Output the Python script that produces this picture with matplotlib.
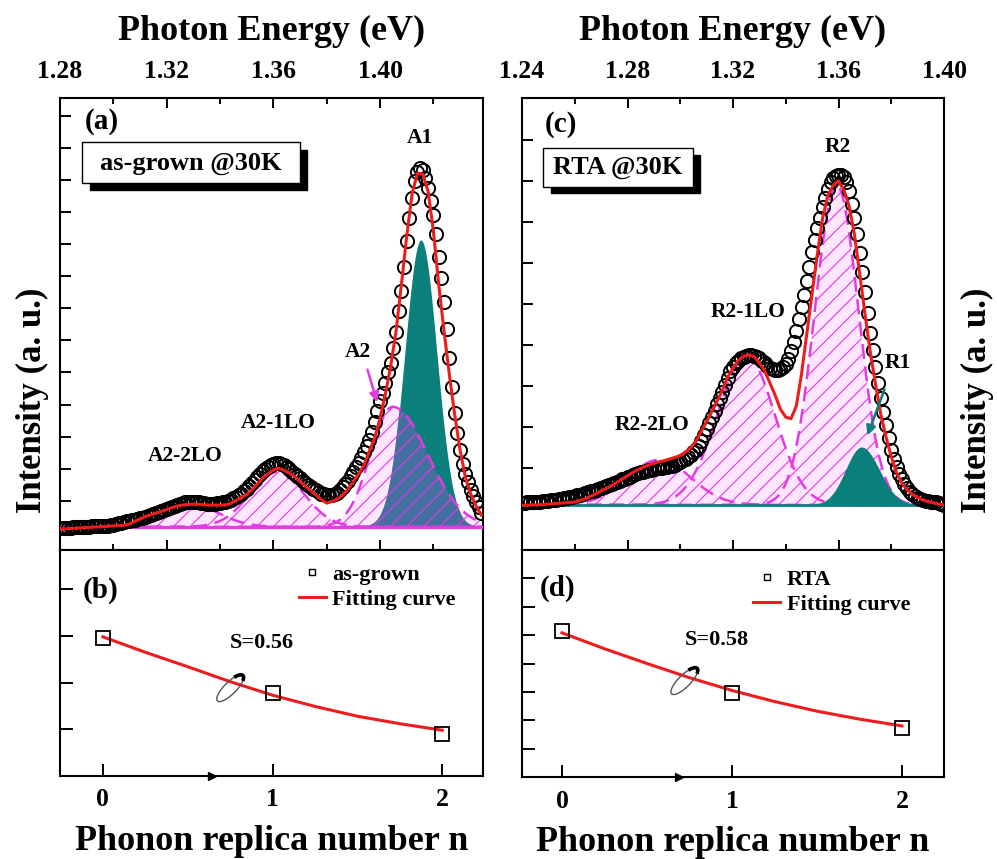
import numpy as np
import matplotlib
matplotlib.use('Agg')
import matplotlib.pyplot as plt
import matplotlib.transforms as mtrans
from matplotlib.patches import Rectangle, Arc
from matplotlib.lines import Line2D

# ---------------- data ----------------
# (a) as-grown PL spectrum, 1 meV steps from 1.280 eV
E0_a = 1.280
pl_asgrown = [
    0.16, 0.16, 0.17, 0.17, 0.17, 0.18, 0.18, 0.18, 0.19, 0.19,
    0.20, 0.20, 0.21, 0.21, 0.22, 0.22, 0.23, 0.23, 0.23, 0.24,
    0.26, 0.28, 0.30, 0.32, 0.34, 0.36, 0.38, 0.40, 0.42, 0.44,
    0.46, 0.47, 0.50, 0.53, 0.56, 0.59, 0.62, 0.65, 0.68, 0.71,
    0.74, 0.77, 0.81, 0.85, 0.88, 0.91, 0.93, 0.95, 0.96, 0.97,
    0.97, 0.96, 0.95, 0.93, 0.92, 0.91, 0.90, 0.90, 0.91, 0.92,
    0.93, 0.95, 0.97, 1.00, 1.04, 1.08, 1.12, 1.17, 1.23, 1.30,
    1.38, 1.47, 1.56, 1.65, 1.74, 1.83, 1.92, 2.00, 2.07, 2.12,
    2.16, 2.18, 2.18, 2.15, 2.11, 2.05, 1.98, 1.91, 1.84, 1.77,
    1.70, 1.63, 1.56, 1.50, 1.44, 1.38, 1.33, 1.28, 1.23, 1.20,
    1.18, 1.17, 1.18, 1.21, 1.26, 1.33, 1.42, 1.52, 1.63, 1.76,
    1.90, 2.04, 2.18, 2.35, 2.53, 2.72, 2.90, 3.15, 3.45, 3.80,
    4.10, 4.35, 4.68, 5.00, 5.30, 5.75, 6.25, 6.90, 7.55, 8.30,
    9.10, 9.80, 10.45, 10.95, 11.25, 11.37, 11.30, 11.05, 10.75, 10.35,
    9.90, 9.30, 8.60, 7.95, 7.20, 6.35, 5.45, 4.55, 3.75, 3.10,
    2.60, 2.15, 1.85, 1.60, 1.35, 1.15, 0.98, 0.80, 0.62]
# total fitting curve (a), 2 meV steps
fit_asgrown = [
    0.12, 0.13, 0.14, 0.15, 0.16, 0.17, 0.18, 0.19, 0.20, 0.21,
    0.22, 0.23, 0.24, 0.28, 0.36, 0.44, 0.51, 0.57, 0.62, 0.67,
    0.73, 0.79, 0.84, 0.87, 0.89, 0.90, 0.89, 0.88, 0.87, 0.87,
    0.87, 0.87, 0.92, 1.01, 1.10, 1.20, 1.35, 1.53, 1.71, 1.84,
    1.96, 2.02, 1.95, 1.86, 1.76, 1.60, 1.46, 1.32, 1.18, 1.04,
    0.93, 0.98, 1.06, 1.18, 1.37, 1.60, 1.85, 2.12, 2.55, 2.96,
    3.58, 4.33, 5.20, 6.29, 7.73, 9.25, 10.56, 11.21, 11.18, 10.65,
    9.41, 7.73, 6.29, 4.92, 3.68, 2.59, 1.74, 1.21, 0.84, 0.56]
# Gaussian components (a): centre, amplitude, sigma_left, sigma_right
base_a = 0.19
peak_A1 = (1.4153, 8.94, 0.0060, 0.0060)
peak_A2 = (1.4047, 3.74, 0.0083, 0.0131)
peak_A2_1LO = (1.3613, 1.71, 0.0101, 0.0101)
peak_A2_2LO = (1.3276, 0.75, 0.0112, 0.0112)

# (c) RTA PL spectrum, 1 meV steps from 1.240 eV
E0_c = 1.240
pl_rta = [
    1.15, 1.15, 1.16, 1.16, 1.17, 1.17, 1.18, 1.18, 1.19, 1.19,
    1.20, 1.21, 1.21, 1.22, 1.24, 1.25, 1.26, 1.27, 1.28, 1.29,
    1.31, 1.33, 1.35, 1.37, 1.39, 1.41, 1.43, 1.45, 1.47, 1.49,
    1.52, 1.54, 1.57, 1.59, 1.62, 1.64, 1.67, 1.69, 1.72, 1.74,
    1.77, 1.79, 1.82, 1.85, 1.87, 1.89, 1.91, 1.93, 1.95, 1.96,
    1.98, 1.99, 2.00, 2.01, 2.02, 2.03, 2.04, 2.05, 2.08, 2.11,
    2.15, 2.19, 2.23, 2.27, 2.32, 2.38, 2.44, 2.53, 2.66, 2.80,
    2.95, 3.10, 3.25, 3.40, 3.56, 3.71, 3.85, 4.02, 4.20, 4.36,
    4.47, 4.56, 4.62, 4.67, 4.71, 4.74, 4.76, 4.76, 4.74, 4.71,
    4.67, 4.62, 4.56, 4.49, 4.44, 4.41, 4.39, 4.39, 4.41, 4.46,
    4.54, 4.66, 4.85, 5.08, 5.33, 5.62, 5.92, 6.22, 6.55, 6.90,
    7.27, 7.56, 7.84, 8.10, 8.36, 8.59, 8.80, 8.96, 9.06, 9.12,
    9.15, 9.14, 9.10, 8.98, 8.75, 8.44, 8.10, 7.70, 7.25, 6.78,
    6.28, 5.78, 5.30, 4.88, 4.46, 4.06, 3.70, 3.37, 3.04, 2.73,
    2.44, 2.22, 2.02, 1.86, 1.72, 1.60, 1.50, 1.42, 1.36, 1.31,
    1.27, 1.24, 1.22, 1.20, 1.19, 1.18, 1.17, 1.16, 1.15, 1.12,
    1.10]
fit_rta = [
    1.09, 1.09, 1.10, 1.10, 1.11, 1.12, 1.13, 1.14, 1.15, 1.16,
    1.17, 1.21, 1.25, 1.31, 1.37, 1.44, 1.50, 1.57, 1.65, 1.73,
    1.81, 1.89, 1.96, 2.02, 2.07, 2.11, 2.15, 2.18, 2.22, 2.26,
    2.30, 2.39, 2.49, 2.66, 2.90, 3.13, 3.38, 3.63, 3.90, 4.22,
    4.44, 4.62, 4.72, 4.76, 4.71, 4.56, 4.37, 4.07, 3.77, 3.43,
    3.24, 3.20, 3.51, 4.30, 5.28, 6.26, 7.22, 8.10, 8.65, 8.89,
    9.00, 8.79, 8.39, 7.71, 6.76, 5.77, 4.85, 4.06, 3.32, 2.76,
    2.27, 1.89, 1.63, 1.47, 1.36, 1.28, 1.22, 1.18, 1.15, 1.12,
    1.10]
base_c = 1.10
peak_R2 = (1.3593, 7.80, 0.0083, 0.0083)
peak_R2_1LO = (1.3253, 3.61, 0.0113, 0.0106)
peak_R2_2LO = (1.2920, 1.10, 0.0120, 0.0120)
peak_R1 = (1.3687, 1.41, 0.0060, 0.0068)

# (b), (d) phonon replica intensities
replica_n = [0, 1, 2]
replica_asgrown = [2.96, 1.78, 0.90]
replica_rta = [5.15, 2.97, 1.74]
fit_n = [0, 0.25, 0.5, 0.75, 1.0, 1.25, 1.5, 1.75, 2.0]
fit_curve_asgrown = [2.98, 2.65, 2.34, 2.02, 1.73, 1.49, 1.28, 1.12, 0.98]
fit_curve_rta = [5.08, 4.52, 4.00, 3.50, 3.05, 2.66, 2.32, 2.04, 1.80]

energy_ticks_a = [1.28, 1.32, 1.36, 1.40]
energy_ticks_c = [1.24, 1.28, 1.32, 1.36, 1.40]

# ---------------- style ----------------
RED = '#ee1c1c'
MAG = '#e23be2'
TEAL = '#0b7f7c'
OVERLAP = '#43709f'
plt.rcParams['font.family'] = ['Liberation Serif', 'DejaVu Serif']
plt.rcParams['font.weight'] = 'bold'
plt.rcParams['hatch.color'] = MAG
plt.rcParams['hatch.linewidth'] = 0.8
plt.rcParams['axes.linewidth'] = 1.5

W, H = 997, 859
fig = plt.figure(figsize=(W / 100, H / 100), dpi=100)


def px_axes(x0, y0, x1, y1):
    return fig.add_axes([x0 / W, 1 - y1 / H, (x1 - x0) / W, (y1 - y0) / H])


ax_a = px_axes(60, 98, 483, 550)
ax_b = px_axes(60, 550, 483, 776)
ax_c = px_axes(522, 98, 944, 550)
ax_d = px_axes(522, 550, 944, 777)


def peak(E, p):
    c, a, sl, sr = p
    s = np.where(E < c, sl, sr)
    return a * np.exp(-(E - c) ** 2 / (2 * s ** 2))


def style_top(ax, xlim, ylim, xticks, yticks):
    ax.set_xlim(xlim)
    ax.set_ylim(ylim)
    ax.set_xticks(xticks)
    ax.set_xticklabels(['%.2f' % t for t in xticks])
    ax.set_xticks(np.array(xticks[:-1]) + 0.02, minor=True)
    ax.set_yticks(yticks)
    ax.tick_params(axis='x', which='both', direction='in', top=True, bottom=True,
                   labeltop=True, labelbottom=False, width=1.4)
    ax.tick_params(axis='x', which='major', length=7.5, labelsize=18.5, pad=11)
    ax.tick_params(axis='x', which='minor', length=4.5)
    ax.tick_params(axis='y', direction='in', left=True, right=False,
                   labelleft=False, length=8, width=1.4)
    ax.text(0.5, 1.147, 'Photon Energy (eV)', transform=ax.transAxes,
            ha='center', va='center', fontsize=26)


def style_bottom(ax, xlim, ylim, yticks):
    ax.set_xlim(xlim)
    ax.set_ylim(ylim)
    ax.set_xticks(replica_n)
    ax.set_yticks(yticks)
    ax.tick_params(axis='x', direction='in', top=False, length=9, width=1.4,
                   labelsize=18.5, pad=9)
    ax.tick_params(axis='y', direction='in', right=False, labelleft=False,
                   length=9, width=1.4)
    ax.text(0.5, -0.288, 'Phonon replica number n', transform=ax.transAxes,
            ha='center', va='center', fontsize=26)


def shadow_box(ax, box, shadow, text, pos):
    x0, x1, y0, y1 = shadow
    ax.add_patch(Rectangle((x0, y0), x1 - x0, y1 - y0, transform=ax.transAxes,
                           facecolor='k', edgecolor='k', zorder=6))
    x0, x1, y0, y1 = box
    ax.add_patch(Rectangle((x0, y0), x1 - x0, y1 - y0, transform=ax.transAxes,
                           facecolor='white', edgecolor='k', lw=1.0, zorder=7))
    ax.text(pos[0], pos[1], text, transform=ax.transAxes, ha='center',
            va='center', fontsize=19, zorder=8)


def loop_arrow(ax, cx, cy):
    tr = fig.dpi_scale_trans + mtrans.ScaledTranslation(cx, cy, ax.transData)
    ax.add_patch(Arc((0, 0), 0.36, 0.12, angle=45, theta1=20, theta2=345,
                     transform=tr, color='#555555', lw=1.0, zorder=6))
    ax.add_patch(Arc((0, 0), 0.36, 0.12, angle=45, theta1=-15, theta2=25,
                     transform=tr, color='k', lw=2.6, zorder=6))


# ---------------- (a) ----------------
E_a = E0_a + 0.001 * np.arange(len(pl_asgrown))
Ef_a = E0_a + 0.002 * np.arange(len(fit_asgrown))
Eg = np.linspace(1.279, 1.440, 700)
gA1 = peak(Eg, peak_A1)
gA2 = peak(Eg, peak_A2)
hatched_a = [gA2, peak(Eg, peak_A2_1LO), peak(Eg, peak_A2_2LO)]
env = np.max(hatched_a, axis=0)
ax_a.fill_between(Eg, base_a, base_a + gA1, color=TEAL, lw=0, zorder=1)
ax_a.fill_between(Eg, base_a, base_a + env, facecolor=(1, 0, 1, 0.10),
                  edgecolor=MAG, hatch='//', lw=0, zorder=2)
ax_a.fill_between(Eg, base_a, base_a + np.minimum(gA1, gA2), facecolor=OVERLAP,
                  edgecolor=MAG, hatch='//', lw=0, zorder=2.5)
for g in hatched_a:
    ax_a.plot(Eg, base_a + g, color=MAG, ls=(0, (6, 3)), lw=1.8, zorder=3)
ax_a.axhline(base_a, color=MAG, lw=2.2, zorder=3)
ax_a.plot(E_a, pl_asgrown, 'o', mfc='none', mec='k', ms=9.5, mew=1.4, zorder=4)
ax_a.plot(Ef_a, fit_asgrown, color=RED, lw=2.2, zorder=5)
style_top(ax_a, (1.28, 1.4386), (-0.53, 13.55), energy_ticks_a + [1.44], range(0, 14))
ax_a.set_xlim(1.28, 1.4386)
ax_a.text(0.099, 0.949, '(a)', transform=ax_a.transAxes, ha='center', va='center', fontsize=21)
shadow_box(ax_a, (0.052, 0.567, 0.811, 0.902), (0.071, 0.584, 0.796, 0.884),
           'as-grown @30K', (0.310, 0.856))
ax_a.text(1.4149, 12.30, 'A1', ha='center', va='center', fontsize=15.5)
ax_a.text(1.3917, 5.64, 'A2', ha='center', va='center', fontsize=15.5)
ax_a.text(1.3617, 3.43, 'A2-1LO', ha='center', va='center', fontsize=15.5)
ax_a.text(1.3268, 2.40, 'A2-2LO', ha='center', va='center', fontsize=15.5)
ax_a.annotate('', xy=(1.3992, 3.99), xytext=(1.3950, 5.17),
              arrowprops=dict(arrowstyle='-|>', color=MAG, lw=1.8, mutation_scale=14),
              zorder=6)

# ---------------- (c) ----------------
E_c = E0_c + 0.001 * np.arange(len(pl_rta))
Ef_c = E0_c + 0.002 * np.arange(len(fit_rta))
Eg = np.linspace(1.239, 1.401, 700)
hatched_c = [peak(Eg, peak_R2), peak(Eg, peak_R2_1LO), peak(Eg, peak_R2_2LO)]
env = np.max(hatched_c, axis=0)
ax_c.fill_between(Eg, base_c, base_c + env, facecolor=(1, 0, 1, 0.10),
                  edgecolor=MAG, hatch='//', lw=0, zorder=1)
for g in hatched_c:
    ax_c.plot(Eg, base_c + g, color=MAG, ls=(0, (6, 3)), lw=1.8, zorder=2)
ax_c.fill_between(Eg, base_c, base_c + peak(Eg, peak_R1), color=TEAL, lw=0, zorder=3)
ax_c.axhline(base_c, color=TEAL, lw=2.0, zorder=3)
ax_c.plot(E_c, pl_rta, 'o', mfc='none', mec='k', ms=9.5, mew=1.4, zorder=4)
ax_c.plot(Ef_c, fit_rta, color=RED, lw=2.2, zorder=5)
style_top(ax_c, (1.24, 1.40), (0, 11.02), energy_ticks_c, range(1, 11))
ax_c.text(0.092, 0.942, '(c)', transform=ax_c.transAxes, ha='center', va='center', fontsize=21)
shadow_box(ax_c, (0.050, 0.405, 0.802, 0.889), (0.069, 0.422, 0.789, 0.873),
           'RTA @30K', (0.227, 0.847))
ax_c.text(1.3596, 9.83, 'R2', ha='center', va='center', fontsize=15.5)
ax_c.text(1.3257, 5.80, 'R2-1LO', ha='center', va='center', fontsize=15.5)
ax_c.text(1.2894, 3.05, 'R2-2LO', ha='center', va='center', fontsize=15.5)
ax_c.text(1.3823, 4.56, 'R1', ha='center', va='center', fontsize=15.5)
ax_c.annotate('', xy=(1.3706, 2.73), xytext=(1.3778, 3.98),
              arrowprops=dict(arrowstyle='-|>', color=TEAL, lw=1.8, mutation_scale=14),
              zorder=6)

# ---------------- (b), (d) ----------------
for ax, y, fy, lab, ylim, yt, xl, tag, tpos, S, spos, lpos, lanch, arr in [
        (ax_b, replica_asgrown, fit_curve_asgrown, 'as-grown', (0, 4.84), [1, 2, 3, 4],
         (-0.253, 2.24), '(b)', (0.095, 0.823), 'S=0.56', (0.935, 2.85), (0.75, 1.88),
         (0.565, 0.935), 0.64),
        (ax_d, replica_rta, fit_curve_rta, 'RTA', (0, 8), [1, 2, 3, 4, 5, 6, 7],
         (-0.235, 2.247), '(d)', (0.085, 0.832), 'S=0.58', (0.91, 4.82), (0.72, 3.38),
         (0.548, 0.915), 0.69)]:
    ax.plot(fit_n, fy, color=RED, lw=2.2, zorder=3)
    ax.plot(replica_n, y, 's', mfc='none', mec='k', ms=10, mew=1.3, zorder=4)
    style_bottom(ax, xl, ylim, yt)
    ax.text(tpos[0], tpos[1], tag, transform=ax.transAxes, ha='center', va='center', fontsize=21)
    ax.text(spos[0], spos[1], S, ha='center', va='center', fontsize=16)
    loop_arrow(ax, lpos[0], lpos[1])
    ax.plot([arr], [ylim[0]], marker='>', ms=6, color='k', clip_on=False, zorder=6)
    handles = [Line2D([], [], ls='none', marker='s', ms=5, mfc='none', mec='k', mew=1.0),
               Line2D([], [], color=RED, lw=2.2)]
    ax.legend(handles, [lab, 'Fitting curve'], loc='upper left', bbox_to_anchor=lanch,
              frameon=False, fontsize=16, handlelength=1.2, handletextpad=0.3,
              labelspacing=0.2, borderpad=0, borderaxespad=0)

fig.text(32 / W, 1 - 400 / H, 'Intensity (a. u.)', rotation=90, ha='center',
         va='center', fontsize=25)
fig.text(977 / W, 1 - 400 / H, 'Intensity (a. u.)', rotation=90, ha='center',
         va='center', fontsize=25)

fig.savefig('out.png', dpi=100)
